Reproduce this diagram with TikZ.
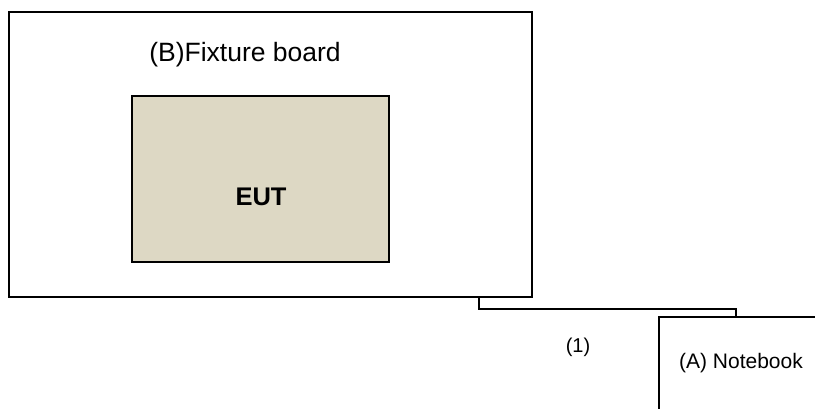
\documentclass[tikz,border=0pt]{standalone}
\usepackage{fontspec}
\setmainfont{Liberation Sans}
\definecolor{eutfill}{RGB}{221,216,196}
\begin{document}
\begin{tikzpicture}[x=1pt,y=-1pt,
  box/.style={draw=black,line width=2.6pt,inner sep=0pt,outer sep=0pt},
  wire/.style={draw=black,line width=2.6pt},
  lbl/.style={inner sep=0pt,font=\fontsize{20}{24}\selectfont}]
\clip (0,0) rectangle (815,408);
\fill[white] (0,0) rectangle (815,408);
\node[box,minimum width=523pt,minimum height=285pt,anchor=north west] (fix) at (9,12) {};
\node[lbl,font=\fontsize{26.5}{30}\selectfont] (fixlbl) at (245,55) {(B)Fixture board};
\node[box,fill=eutfill,minimum width=257pt,minimum height=166pt,anchor=north west] (eut) at (132,96) {};
\node[lbl,font=\bfseries\fontsize{25.5}{30}\selectfont] (eutlbl) at (261,197) {EUT};
\node[box,minimum width=300pt,minimum height=200pt,anchor=north west] (nb) at (659,317) {};
\node[lbl,font=\fontsize{21}{25}\selectfont] (nblbl) at (741,363) {(A) Notebook};
\node[lbl] (cbl) at (578,347) {(1)};
\draw[wire] ([xshift=470pt]fix.south west) -- ++(0,12) -| ([xshift=77pt]nb.north west);
\end{tikzpicture}
\end{document}
